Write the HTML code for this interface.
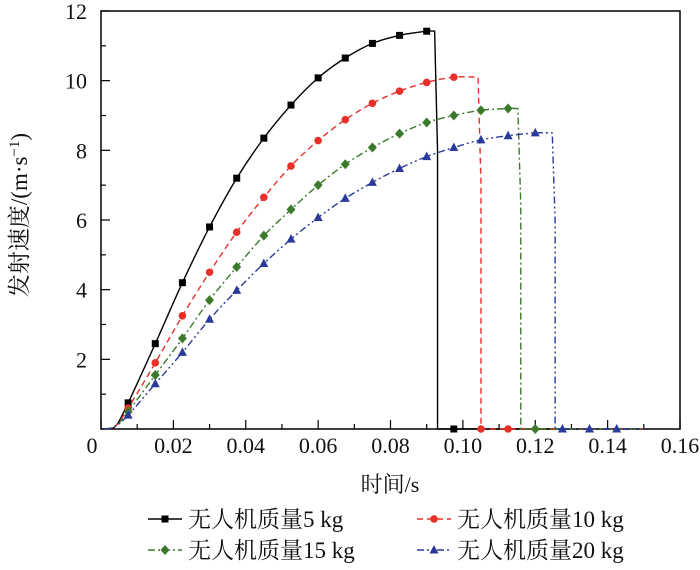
<!DOCTYPE html>
<html><head><meta charset="utf-8"><style>
body{margin:0;background:#fff;}
svg text{font-family:"Liberation Serif","Noto Serif CJK SC",serif;fill:#111;}
</style></head><body>
<svg id="c" width="700" height="565" xmlns="http://www.w3.org/2000/svg"></svg>
<script>
const tVals=[0.0075,0.015,0.0225,0.03,0.0375,0.045,0.0525,0.06,0.0675,0.075,0.0825,0.09,0.0975,0.105,0.1125,0.12];
const s5=[0.75,2.45,4.2,5.8,7.2,8.35,9.3,10.08,10.65,11.07,11.3,11.42];
const s10=[0.6,1.9,3.25,4.5,5.65,6.65,7.55,8.28,8.88,9.35,9.7,9.95,10.1];
const s15=[0.5,1.55,2.6,3.7,4.65,5.55,6.3,7.0,7.6,8.08,8.48,8.8,9.0,9.15,9.2];
const s20=[0.4,1.3,2.2,3.15,3.98,4.75,5.45,6.07,6.62,7.08,7.48,7.82,8.08,8.3,8.42,8.5];
const dropT=[0.093,0.105,0.116,0.1255];
const zeroMarks=[[0.0975],[0.105,0.1125],[0.12],[0.1275,0.135,0.1425]];
const labels=["无人机质量5 kg","无人机质量10 kg","无人机质量15 kg","无人机质量20 kg"];
const colors=["#000","#e8302a","#3a7a2a","#2a3a9a"];
const dashes=["","6,4","7,3,2,3","7,3,2,3,2,3"];
const series=[s5,s10,s15,s20];
const xTicks=["0","0.02","0.04","0.06","0.08","0.10","0.12","0.14","0.16"];
const yTicks=["2","4","6","8","10","12"];
const L=101,R=680,T=11,B=429;
const X=t=>L+(t/0.16)*(R-L), Y=v=>B-(v/12)*(B-T);
const svg=document.getElementById('c');const NS="http://www.w3.org/2000/svg";
function mk(tag,a,p){const e=document.createElementNS(NS,tag);for(const k in a)e.setAttribute(k,a[k]);(p||svg).appendChild(e);return e;}
let ax=mk('rect',{x:L,y:T,width:R-L,height:B-T,fill:'none',stroke:'#000','stroke-width':1.5});

for(let i=0;i<=16;i++){const x=X(i*0.01);const len=i%2?5:9;mk('line',{x1:x,x2:x,y1:B,y2:B-len,stroke:'#000','stroke-width':1.2});}
for(let i=0;i<=12;i++){const y=Y(i);const len=i%2?5:9;mk('line',{x1:L,x2:L+len,y1:y,y2:y,stroke:'#000','stroke-width':1.2});}
xTicks.forEach((s,i)=>{const t=mk('text',{x:i==0?X(0)-9:X(i*0.02),y:453,'font-size':22,'text-anchor':'middle'});t.textContent=s;
});
yTicks.forEach((s,i)=>{const t=mk('text',{x:87,y:Y((i+1)*2)+8,'font-size':22,'text-anchor':'end'});t.textContent=s;
});
let xt=mk('text',{x:390,y:492,'font-size':22,'text-anchor':'middle'});xt.textContent='时间/s';

let yt=mk('text',{x:0,y:0,'font-size':23,'text-anchor':'middle',transform:'translate(27,215) rotate(-90)'});
yt.innerHTML='发射速度/(m·s<tspan baseline-shift="super" font-size="15">−1</tspan>)';

function marker(k,x,y,g){const c=colors[k];let e;
 if(k==0)e=mk('rect',{x:x-3.5,y:y-3.5,width:7,height:7,fill:c},g);
 else if(k==1)e=mk('circle',{cx:x,cy:y,r:3.8,fill:c},g);
 else if(k==2)e=mk('polygon',{points:`${x},${y-5} ${x+4.5},${y} ${x},${y+5} ${x-4.5},${y}`,fill:c},g);
 else e=mk('polygon',{points:`${x},${y-5} ${x+4.5},${y+3.5} ${x-4.5},${y+3.5}`,fill:c},g);
 }
function smooth(pts){let d=`M${pts[0][0]},${pts[0][1]}`;for(let i=0;i<pts.length-1;i++){const p0=pts[Math.max(0,i-1)],p1=pts[i],p2=pts[i+1],p3=pts[Math.min(pts.length-1,i+2)];
 d+=` C${p1[0]+(p2[0]-p0[0])/6},${p1[1]+(p2[1]-p0[1])/6} ${p2[0]-(p3[0]-p1[0])/6},${p2[1]-(p3[1]-p1[1])/6} ${p2[0]},${p2[1]}`;}return d;}
series.forEach((s,k)=>{const g=mk('g',{});
 const pts=[[X(0.001),Y(0)],[X(0.004),Y(0.08)]];s.forEach((v,i)=>pts.push([X(tVals[i]),Y(v)]));
 const last=s[s.length-1];pts.push([X(dropT[k]-0.0008),Y(last)]);
 let d=smooth(pts)+` L${X(dropT[k])},${Y(last*0.7)} L${X(dropT[k])},${Y(0)} L${X(0.15)},${Y(0)}`;
 mk('path',{d:d,fill:'none',stroke:colors[k],'stroke-width':1.4,'stroke-dasharray':dashes[k]},g);
 s.forEach((v,i)=>marker(k,X(tVals[i]),Y(v),g));
 zeroMarks[k].forEach(t=>marker(k,X(t),Y(0),g));});
const lx=[148,417],ly=[519,550];
labels.forEach((s,k)=>{const g=mk('g',{});
 const x=lx[k%2],y=ly[Math.floor(k/2)];
 mk('line',{x1:x,x2:x+34,y1:y,y2:y,stroke:colors[k],'stroke-width':1.5,'stroke-dasharray':dashes[k]},g);
 marker(k,x+17,y,g);const t=mk('text',{x:x+40,y:y+8,'font-size':23},g);t.textContent=s;});
</script>
</body></html>
